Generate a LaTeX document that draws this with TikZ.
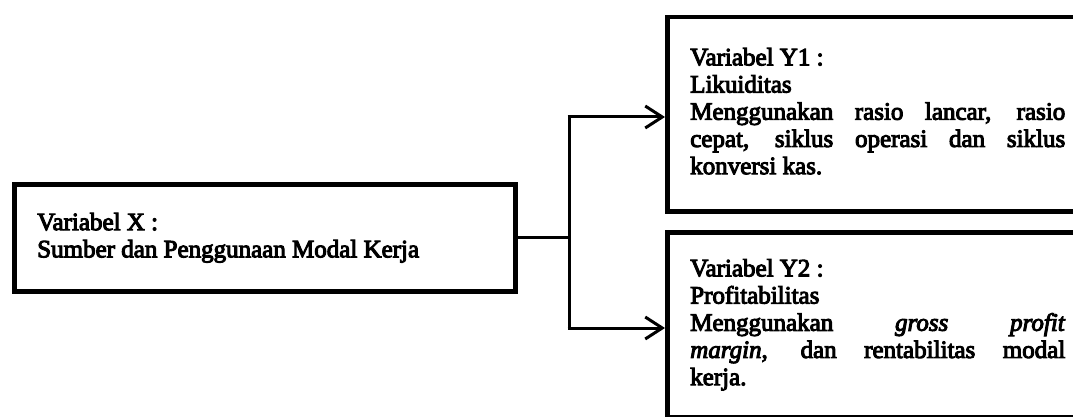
\documentclass[tikz,border=0pt]{standalone}
\usepackage{fontspec}
\setmainfont{Liberation Serif}[FakeBold=4,UprightFeatures={FakeBold=4},ItalicFeatures={FakeBold=4}]
\usetikzlibrary{arrows.meta}
\begin{document}
\begin{tikzpicture}[x=1pt,y=-1pt,
  txt/.style={font=\fontsize{25}{27.2}\selectfont},
  varbox/.style={draw, line width=4.5pt, inner sep=0pt, anchor=north west, txt},
  conn/.style={line width=3pt},
  arr/.style={conn, -{Straight Barb[length=17pt,width=22pt]}}]
\useasboundingbox (0,0) rectangle (1073,417);
\fill[white] (0,0) rectangle (1073,417);

\node[varbox, minimum width=501pt, minimum height=107pt] (X) at (12,182)
  {\hspace*{23pt}\parbox{478pt}{\raggedright Variabel X :\\Sumber dan Penggunaan Modal Kerja}};

\node[varbox, minimum height=194pt] (Y1) at (665,15)
  {\hspace*{23pt}\parbox{375pt}{Variabel Y1 :\\Likuiditas\\Menggunakan rasio lancar, rasio\linebreak cepat, siklus operasi dan siklus\linebreak konversi kas.\par\vspace{6pt}}\hspace*{9.5pt}};

\node[varbox, minimum height=185pt] (Y2) at (665,230)
  {\hspace*{23pt}\parbox{375pt}{Variabel Y2 :\\Profitabilitas\\Menggunakan \textit{gross profit}\linebreak \textit{margin}, dan rentabilitas modal\linebreak kerja.}\hspace*{30pt}};

\coordinate (ja) at (569,117);
\coordinate (jb) at (569,328);
\draw[conn] (X.east) -- (X.east -| ja);
\draw[conn] (ja) -- (jb);
\draw[arr] ([xshift=-1.5pt]ja) -- (Y1.west |- ja);
\draw[arr] ([xshift=-1.5pt]jb) -- (Y2.west |- jb);
\end{tikzpicture}
\end{document}
